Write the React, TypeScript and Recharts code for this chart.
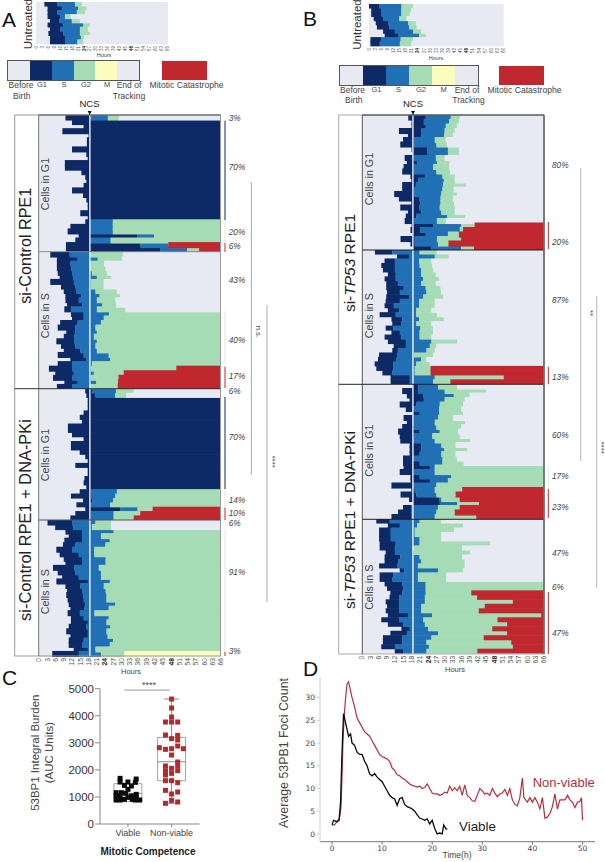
import React from "react";
import {
  BarChart, Bar, XAxis, YAxis, ReferenceLine, ReferenceArea,
  ScatterChart, Scatter, LineChart, Line,
} from "recharts";

const FONT = "'Liberation Sans', Arial, sans-serif";
const C_BG = "#e8eaf3", C_G1 = "#0d2a66", C_S = "#2170b5", C_G2 = "#a5dcb5", C_M = "#fdfcbf", C_CAT = "#c1272f";

const hourTicks = [0, 3, 6, 9, 12, 15, 18, 21, 24, 27, 30, 33, 36, 39, 42, 45, 48, 51, 54, 57, 60, 63, 66];

// Untreated A
const uaBirth = [4.2, 5.8, 5.8, 5.8, 7, 5.8, 7, 6.2, 7, 7];
const uaG1 = [10.7, 12.9, 10.7, 12, 11.7, 13.7, 12, 13.7, 14.5, 14.5];
const uaS = [19.5, 21.2, 20.4, 14.5, 17.9, 23.7, 22, 22, 22.5, 20.7];
const uaG2 = [22.9, 25.4, 24.6, 17.4, 22, 27, 26, 27, 24, 23.7];
const uaFate = "eeeeeeeeee";
// Untreated B
const ubBirth = [0, 1.1, 1.1, 2.3, 3.3, 3.9, 6.9, 7.7, 0.7, 0.7];
const ubG1 = [4.9, 6.1, 6.1, 6.9, 9.3, 9.9, 12.6, 14.2, 6.1, 5.2];
const ubS = [15.9, 15.9, 15.9, 14.8, 19.2, 19.7, 21.6, 24.6, 15.5, 15.1];
const ubG2 = [21.6, 20.8, 20, 18.4, 23, 23.4, 25.7, 27.9, 21.6, 20.8];
const ubFate = "eeeeeeeeee";

// A: si-Control, cells in G1
const a1Birth = [9.6, 12, 16.2, 8.5, 18, 17.4, 17.4, 12, 17.2, 17.7, 9.4, 9.4, 15.4, 16.8, 17.2, 16.2, 12, 16, 17.2, 17.7, 17.7, 15, 17.7, 16.8, 11.4, 10.4, 14.4, 13.2, 9.8, 9.8];
const a1G1 = [18.6, 66, 66, 66, 66, 66, 66, 66, 66, 66, 66, 66, 66, 66, 66, 66, 66, 66, 66, 66, 66, 66, 66, 18.6, 18.6, 18.6, 35.6, 18.6, 36.8, 44];
const a1S = [25, 66, 66, 66, 66, 66, 66, 66, 66, 66, 66, 66, 66, 66, 66, 66, 66, 66, 66, 66, 66, 66, 66, 26.8, 26.8, 26.8, 41.8, 26, 47, 53.8];
const a1G2 = [29, 66, 66, 66, 66, 66, 66, 66, 66, 66, 66, 66, 66, 66, 66, 66, 66, 66, 66, 66, 66, 66, 66, 66, 66, 66, 66, 66, 47, 58.2];
const a1Fate = "eeeeeeeeeeeeeeeeeeeeeeeeeeeecc";
// A: si-Control, cells in S
const a2Birth = [4.1, 6.5, 6.5, 6.5, 6.8, 7.5, 4.1, 8, 9, 9.6, 9.6, 10.2, 9.2, 11.6, 12, 7.7, 6.8, 9.9, 9, 6.3, 8, 9, 6.8, 11.4, 6.8, 3.6, 5.9, 5.1, 9.2, 6.5];
const a2G1 = [11.1, 14, 11.4, 11.6, 12, 12.3, 12.6, 13.2, 13.6, 15.3, 14.4, 15.7, 11.6, 16.2, 16.2, 14, 13.2, 13.2, 12.8, 12.8, 13.2, 15, 16.2, 17.2, 12, 12, 12.6, 12, 14, 12];
const a2S = [18.6, 21.3, 18.6, 18.6, 19.2, 21, 18.9, 18.9, 20.5, 22, 21, 23, 21, 25.4, 23.5, 22.5, 20.5, 21, 19.9, 21, 20.5, 21, 25.3, 25.9, 19.2, 18.9, 19.9, 18.9, 20.8, 18.6];
const a2G2 = [30.5, 30.1, 23.7, 24.2, 24.7, 26.3, 23.5, 23.5, 28.3, 29.5, 27.7, 28.1, 31.4, 66, 66, 66, 66, 66, 66, 66, 66, 66, 66, 66, 66, 49.9, 30.8, 28.9, 28.7, 28.6];
const a2Fate = "eeeeeeeeeeeeeeeeeeeeeeeeeccccc";
// A: + DNA-PKi, cells in G1
const a3Birth = [16.8, 17.2, 17.7, 17.7, 17.7, 16.2, 14.8, 15.6, 10.5, 10.5, 12, 16.2, 11.6, 11.6, 14.8, 16.8, 17.7, 13.2, 17.7, 17.7, 16.5, 16.2, 17.2, 14.8, 11.6, 16, 13.6, 16.8, 13.2, 11.4];
const a3G1 = [19.2, 20.5, 66, 66, 66, 66, 66, 66, 66, 66, 66, 66, 66, 66, 66, 66, 66, 66, 66, 66, 66, 66, 66, 18.9, 18.9, 19.2, 18.6, 29.5, 18.9, 18.9];
const a3S = [28, 27.7, 66, 66, 66, 66, 66, 66, 66, 66, 66, 66, 66, 66, 66, 66, 66, 66, 66, 66, 66, 66, 66, 28.3, 27.7, 26.9, 25.9, 35.8, 27.1, 27.1];
const a3G2 = [34.4, 31.7, 66, 66, 66, 66, 66, 66, 66, 66, 66, 66, 66, 66, 66, 66, 66, 66, 66, 66, 66, 66, 66, 66, 66, 66, 66, 41.3, 36.8, 34.4];
const a3Fate = "eeeeeeeeeeeeeeeeeeeeeeeeeeeccc";
// A: + DNA-PKi, cells in S
const a4Birth = [3.1, 5.9, 9.6, 10.8, 9.2, 8.7, 6.3, 7.5, 9, 9.6, 5.1, 6.8, 8.4, 6.3, 9.6, 10.2, 9.9, 10.4, 10.8, 11.4, 10.4, 11.6, 11.6, 10.8, 9.9, 11.4, 10.8, 10.8, 12.6, 4.8];
const a4G1 = [12, 12.3, 15.6, 15.6, 15.6, 13.2, 12, 14.4, 15.6, 15.6, 12.8, 13.2, 14.4, 17.7, 15, 15.6, 16, 16.2, 16.8, 16.5, 14.8, 16.2, 17.7, 17.2, 17.7, 17.7, 16.2, 15.6, 17.7, 14.4];
const a4S = [20.5, 19.2, 27.1, 22.5, 25.7, 24.1, 20.1, 20.1, 24.2, 24.2, 21.7, 22.5, 22.5, 25.7, 23.5, 24.2, 24.5, 24.5, 27.7, 25.3, 20.1, 25.3, 24.5, 25.9, 24.5, 24.9, 26.9, 25.7, 20.5, 22.5];
const a4G2 = [26.2, 26.2, 66, 66, 66, 66, 66, 66, 66, 66, 66, 66, 66, 66, 66, 66, 66, 66, 66, 66, 66, 66, 66, 66, 66, 66, 66, 66, 66, 31];
const a4Fate = "eeeeeeeeeeeeeeeeeeeeeeeeeeeeem";

// B: si-TP53, cells in G1
const b1Birth = [16.8, 18, 18, 13.4, 16.7, 14.9, 13.9, 18, 18.3, 15.5, 16.3, 15.1, 14.6, 17.6, 17.9, 14.6, 14.6, 11.7, 13.4, 17.9, 13.9, 16.7, 15.9, 15.5, 18, 17.6, 18.3, 14, 17.6, 18.5];
const b1G1 = [23.1, 22.4, 23.1, 21.5, 21.5, 19, 19, 23.6, 23.6, 18.8, 20, 18.8, 18.8, 22.8, 20.3, 19.5, 18.8, 18.8, 20.7, 21.2, 20.7, 21.5, 19.7, 18.8, 25.8, 21, 23.1, 19.1, 19.1, 25.2];
const b1S = [32.2, 31.6, 30.4, 30, 29.8, 26.4, 27, 31.2, 31.2, 26.8, 27.2, 25.8, 27, 29.2, 29.7, 29.4, 29.2, 28.8, 28.5, 28.5, 28.2, 28.8, 30.9, 27.2, 36, 35.5, 31.2, 27.2, 27.6, 36];
const b1G2 = [35.5, 35.2, 34.5, 33.7, 33, 30.4, 30.9, 35.2, 35.2, 30, 31.8, 31.6, 32, 33.7, 33.7, 37.9, 33.3, 34.6, 33, 33.4, 33.7, 33.7, 37.5, 30.4, 40.9, 36.7, 35.2, 36, 31.4, 40.7];
const b1Fate = "eeeeeeeeeeeeeeeeeeeeeeeecccccc";
// B: si-TP53, cells in S
const b2Birth = [4.7, 12.7, 8.2, 7, 7.6, 9.4, 8.2, 8.8, 8.8, 9.1, 8.8, 8.6, 8.2, 9.4, 6.4, 10.7, 11, 8.6, 10.7, 8.2, 9.4, 11.5, 11, 6.2, 5.8, 4.6, 5.2, 7.4, 10.4, 10.4];
const b2G1 = [11, 17, 11.9, 11.9, 11.9, 12.2, 12.2, 13, 15.1, 13.7, 17, 13.7, 11.5, 13.4, 12.2, 14.6, 14.3, 11.3, 13.7, 14.3, 15.9, 15.9, 13, 12.7, 12.5, 11.3, 11.3, 11, 17.3, 17.3];
const b2S = [20.9, 26.4, 20.7, 20.9, 21.5, 21.5, 22.2, 21.5, 23.1, 23.4, 22.2, 20.7, 20.7, 19.7, 19.7, 20.7, 19.7, 21.2, 20.9, 20.9, 25.2, 24.6, 23.4, 18.8, 21.5, 19.7, 19.1, 19.1, 26.4, 25.8];
const b2G2 = [27.2, 31.5, 25.2, 25.5, 25.8, 26.8, 28, 26.8, 28.5, 28.8, 29.4, 26.4, 26.4, 25.2, 27.2, 29.7, 25.2, 25.8, 25.8, 25.2, 34.6, 27, 26.4, 25.8, 23.4, 24.6, 24.9, 24.9, 51.5, 32.1];
const b2Fate = "eeeeeeeeeeeeeeeeeeeeeeeeeecccc";
// B: + DNA-PKi, cells in G1
const b3Birth = [18.3, 14.6, 16.3, 17.3, 13.7, 15.9, 18.5, 15.1, 16.3, 14.6, 13.1, 13.7, 13.9, 17.3, 17.3, 17.3, 14.9, 14.9, 15.1, 13.7, 17.6, 17.6, 10.7, 17.9, 14, 17.1, 18.5, 14.9, 13.1, 10.7];
const b3G1 = [20.3, 20.3, 22.2, 22.4, 19.7, 18.5, 20.9, 18.5, 18.5, 18.8, 20.9, 18.8, 18.5, 21.5, 21.5, 20.9, 18.5, 20.9, 24.6, 18.8, 20.9, 24.6, 18.5, 19.1, 19.7, 28, 28.2, 17.9, 17.9, 17.9];
const b3S = [27.6, 30, 33.3, 30, 28.2, 28, 28, 27.6, 26.4, 27, 28.2, 25.5, 26.4, 28.8, 29.8, 28.8, 29.2, 29.2, 26.4, 26.4, 32.4, 31.2, 27, 26.4, 27, 28.8, 34.6, 27.6, 27, 26.4];
const b3G2 = [34.6, 45.2, 39.1, 37.3, 36.7, 36.1, 36.7, 33, 37.5, 36.1, 34.9, 35.5, 39.3, 34, 38.3, 34, 34.5, 36.9, 66, 66, 66, 66, 66, 36.4, 34, 35.5, 42.5, 35.5, 33.7, 41.5];
const b3Fate = "eeeeeeeeeeeeeeeeeeeeeeeccccccc";
// B: + DNA-PKi, cells in S
const b4Birth = [5.2, 9.4, 6.2, 6.2, 6.2, 6.4, 6.4, 8.6, 8.2, 8.2, 6.2, 13.7, 6.4, 6.4, 8.2, 9.1, 10.3, 10, 8.6, 9.1, 8.6, 9.4, 7, 9.4, 14.3, 10.3, 7.6, 7.6, 7, 11.9];
const b4G1 = [10, 13.7, 10.4, 10.4, 10.4, 12.2, 11.9, 11.9, 13.9, 13.1, 12.7, 15.3, 11.3, 11, 14.6, 14.9, 14.6, 13.4, 13.4, 13.4, 13.4, 16.7, 13.4, 14.9, 17.3, 16.3, 14.6, 14.6, 11.9, 14.9];
const b4S = [20.9, 20, 19.1, 19.1, 20.9, 20.9, 18.5, 18.8, 20.9, 21.5, 20.3, 27.6, 20.3, 20.3, 23.1, 23.1, 23.1, 22.8, 22.8, 21.5, 21.5, 25.5, 22.2, 22.8, 24, 27.6, 25.2, 23.4, 24.3, 23.4];
const b4G2 = [28.8, 36.7, 33.4, 28.8, 28.8, 46.6, 36.4, 39.3, 36.4, 37.3, 37.3, 36.7, 30.6, 30.6, 66, 66, 39.7, 41.8, 54.8, 44.6, 42.4, 65.1, 49.2, 52.7, 47.3, 52.7, 44.2, 54.2, 54.8, 41.9];
const b4Fate = "eeeeeeeeeeeeeeeecccccccccccccc";

// C: box plot points
const viableX = [0.82, 1.19, 0.82, 1, 1.17, 0.92, 1.08, 1, 0.73, 0.85, 0.95, 1.19, 0.73, 0.82, 1.08, 1.19, 0.73, 0.92, 1, 1.1, 1.27, 0.82, 1.17];
const viableY = [1687, 1662, 1552, 1552, 1540, 1428, 1404, 1281, 1158, 1158, 1133, 1096, 1034, 1010, 1034, 1010, 887, 911, 985, 911, 887, 887, 887];
const nonViableX = [2, 2, 2, 1.86, 2, 2.14, 1.86, 2.14, 2, 2.14, 1.72, 1.86, 2, 2.14, 2.27, 2, 2.14, 1.86, 2, 2.14, 2.14, 1.86, 1.86, 2, 1.86, 2, 2.14, 1.86, 2.14, 2, 2, 1.86, 2.14];
const nonViableY = [4618, 4286, 3953, 3768, 3768, 3768, 3288, 3276, 3153, 3103, 2820, 2759, 2783, 2882, 2783, 2549, 2291, 2143, 2057, 2143, 1970, 1970, 1810, 1872, 1601, 1601, 1527, 1244, 1182, 1108, 874, 764, 813];

// D: foci curves
const nvTime = [0, 0.5, 1, 1.5, 1.8, 2, 2.2, 2.5, 2.8, 3, 3.3, 3.6, 4, 4.5, 5, 5.5, 6, 6.5, 7, 7.5, 8, 8.5, 9, 9.5, 10, 10.5, 11, 11.5, 12, 12.5, 13, 13.5, 14, 14.5, 15, 15.5, 16, 16.5, 17, 17.5, 18, 18.5, 19, 19.5, 20, 20.5, 21, 21.5, 22, 22.5, 23, 23.5, 24, 24.5, 25, 25.5, 26, 26.5, 27, 27.5, 28, 28.5, 29, 29.5, 30, 30.5, 31, 31.5, 32, 32.5, 33, 33.5, 34, 34.5, 35, 35.5, 36, 36.5, 37, 37.5, 38, 38.3, 39, 39.5, 40, 40.5, 41, 41.5, 42, 42.5, 43, 43.5, 44, 44.5, 45, 45.5, 46, 46.5, 47, 47.5, 48, 48.5, 49, 49.5, 49.8, 50];
const nvFoci = [2, 2, 2.7, 3.5, 6, 13, 21, 27, 31, 33, 33.5, 32, 30, 28, 25.5, 24.5, 23.5, 22.5, 22, 21.5, 20.5, 19.5, 18.5, 17.5, 17, 16.8, 16.5, 16, 14.5, 14, 13, 12.8, 12.3, 12, 11.5, 11, 10.7, 10.5, 10.3, 10.5, 10, 10.2, 11, 10, 9, 8.8, 8.8, 8.5, 8.7, 9.2, 9, 10.5, 9.5, 10.2, 9.5, 10.5, 8.5, 10.8, 8.5, 8, 7.3, 7.2, 8.5, 10, 9.5, 8.8, 9, 8.5, 10, 9, 8.2, 8.8, 9, 9.8, 8.5, 10, 7.5, 6.5, 6.2, 8, 12.3, 8, 7, 8, 7, 8, 7, 5.5, 8, 3.5, 3.7, 4.5, 6, 8.8, 5.5, 7.5, 7.5, 7.5, 8.5, 7.5, 7, 5.8, 7, 7.2, 8, 3];
const vTime = [0, 0.3, 1, 1.4, 1.7, 2, 2.3, 2.6, 3, 3.3, 3.7, 4, 4.5, 5, 5.5, 6, 6.5, 7, 7.5, 8, 8.5, 9, 9.5, 10, 10.5, 11, 11.5, 12, 12.5, 13, 13.5, 14, 14.5, 15, 15.5, 16, 16.5, 17, 17.5, 18, 18.5, 19, 19.5, 20, 20.5, 21, 21.5, 22, 22.3, 22.7, 23];
const vFoci = [2, 3, 2.7, 3, 7, 18, 26.5, 25, 23, 21.5, 22, 20, 19.5, 18, 17.5, 17.5, 16, 15, 13.2, 12.8, 13.3, 12.5, 12, 11.5, 10.5, 9.5, 8.5, 8, 7.7, 6.3, 7.8, 8, 6.5, 6, 5.8, 5.5, 5, 4.2, 3.5, 3.3, 3, 3.3, 2.2, 3, 1.2, 0, 0.2, 0, 2, 1.2, 1];

const buildRows = (birth: number[], g1: number[], s: number[], g2: number[], fate: string) =>
  birth.map((b, i) => {
    const rest = 66 - g2[i];
    const f = fate[i];
    return {
      id: i,
      before: b,
      g1: Math.max(0, g1[i] - b),
      s: Math.max(0, s[i] - g1[i]),
      g2: Math.max(0, g2[i] - s[i]),
      m: f === "m" ? rest : 0,
      end: f === "e" ? rest : 0,
      cat: f === "c" ? rest : 0,
    };
  });

const HourTick = ({ x, y, payload, size }: any) => {
  const v = payload.value;
  return (
    <text
      transform={`translate(${x + size * 0.36},${y}) rotate(-90)`}
      textAnchor="end"
      fontFamily={FONT}
      fontSize={size}
      fontWeight={v === 24 || v === 48 ? 700 : 400}
      fill={v === 24 || v === 48 ? "#222" : "#555"}
    >
      {v}
    </text>
  );
};

const segs: [string, string][] = [
  ["before", C_BG], ["g1", C_G1], ["s", C_S], ["g2", C_G2], ["m", C_M], ["end", C_BG], ["cat", C_CAT],
];

// Row cells overlap their neighbours by about a pixel so no hairline shows between rows.
const Cell = ({ x, y, width, height, fill }: any) =>
  width > 0 ? <rect x={x} y={y - 0.5} width={width + 0.3} height={height + 1.05} fill={fill} /> : <g />;

const PAD = 6;
function Track({ left, top, width, height, rows, tickSize, axisH, ncs }: any) {
  const total = height + (axisH || 0);
  return (
    <div style={{ position: "absolute", left: left - PAD, top, width: width + PAD * 2, height: total }}>
      <BarChart
        width={width + PAD * 2}
        height={total}
        data={rows}
        layout="vertical"
        barCategoryGap={0}
        barGap={0}
        margin={{ top: 0, right: PAD, bottom: 0, left: PAD }}
      >
        <XAxis
          type="number"
          domain={[0, 66]}
          ticks={hourTicks}
          interval={0}
          hide={!axisH}
          height={axisH || 0}
          axisLine={false}
          tickLine={false}
          tickSize={0}
          tickMargin={2}
          tick={<HourTick size={tickSize} />}
        />
        <YAxis type="category" dataKey="id" hide />
        {segs.map(([k, c]) => (
          <Bar key={k} dataKey={k} stackId="a" fill={c} isAnimationActive={false} shape={<Cell />} />
        ))}
        {ncs ? <ReferenceLine x={ncs} stroke="#ffffff" strokeWidth={1.3} /> : null}
      </BarChart>
    </div>
  );
}

const Sq = ({ cx, cy, fill }: any) => <rect x={cx - 2.5} y={cy - 2.5} width={5} height={5} fill={fill} />;

function BoxPanel() {
  const viable = viableX.map((x, i) => ({ x, y: viableY[i] }));
  const nonViable = nonViableX.map((x, i) => ({ x, y: nonViableY[i] }));
  const g = "#8a8a8a";
  return (
    <div style={{ position: "absolute", left: 50, top: 680, width: 160, height: 165 }}>
      <ScatterChart width={160} height={165} margin={{ top: 8.7, right: 10.5, bottom: 0, left: 0 }}>
        <XAxis
          type="number"
          dataKey="x"
          domain={[0.36, 2.64]}
          ticks={[1, 2]}
          tickFormatter={(v: number) => (v === 1 ? "Viable" : "Non-viable")}
          height={21}
          stroke="#888"
          tick={{ fontSize: 9, fill: "#444", fontFamily: FONT }}
          tickSize={3}
          tickMargin={3}
          interval={0}
        />
        <YAxis
          type="number"
          dataKey="y"
          domain={[0, 5000]}
          ticks={[0, 1000, 2000, 3000, 4000, 5000]}
          width={50}
          stroke="#888"
          tick={{ fontSize: 11.5, fill: "#333", fontFamily: FONT }}
          tickSize={5}
          tickMargin={1}
        />
        <ReferenceArea x1={0.68} x2={1.32} y1={825} y2={1490} fill="none" stroke={g} strokeWidth={0.8} />
        <ReferenceArea x1={1.68} x2={2.32} y1={1600} y2={3200} fill="none" stroke={g} strokeWidth={0.8} />
        <ReferenceLine segment={[{ x: 0.68, y: 1133 }, { x: 1.32, y: 1133 }]} stroke={g} />
        <ReferenceLine segment={[{ x: 1.68, y: 2300 }, { x: 2.32, y: 2300 }]} stroke={g} />
        <ReferenceLine segment={[{ x: 2, y: 3200 }, { x: 2, y: 4618 }]} stroke={g} />
        <ReferenceLine segment={[{ x: 2, y: 764 }, { x: 2, y: 1600 }]} stroke={g} />
        <ReferenceLine segment={[{ x: 1.83, y: 4618 }, { x: 2.17, y: 4618 }]} stroke={g} />
        <ReferenceLine segment={[{ x: 1.83, y: 764 }, { x: 2.17, y: 764 }]} stroke={g} />
        <ReferenceLine segment={[{ x: 0.92, y: 4950 }, { x: 1.96, y: 4950 }]} stroke="#999" />
        <Scatter data={viable} fill="#0a0a0a" shape={<Sq />} isAnimationActive={false} />
        <Scatter data={nonViable} fill="#b32a2c" shape={<Sq />} isAnimationActive={false} />
      </ScatterChart>
    </div>
  );
}

function CurvePanel() {
  const nv = nvTime.map((t, i) => ({ t, v: nvFoci[i] }));
  const vi = vTime.map((t, i) => ({ t, v: vFoci[i] }));
  return (
    <div style={{ position: "absolute", left: 290, top: 670, width: 310, height: 190 }}>
      <LineChart width={310} height={190} margin={{ top: 6.7, right: 5, bottom: 0, left: 0 }}>
        <XAxis
          type="number"
          dataKey="t"
          domain={[-2.4, 52.5]}
          ticks={[0, 10, 20, 30, 40, 50]}
          height={18.3}
          stroke="#777"
          tick={{ fontSize: 7.5, fill: "#444", fontFamily: "'DejaVu Sans'" }}
          tickSize={3}
          tickMargin={1}
          allowDuplicatedCategory={false}
        />
        <YAxis
          type="number"
          dataKey="v"
          domain={[-1.7, 34.6]}
          ticks={[0, 5, 10, 15, 20, 25, 30]}
          width={30}
          stroke="#cfcfcf"
          tick={{ fontSize: 7.5, fill: "#444", fontFamily: "'DejaVu Sans'" }}
          tickSize={3}
          tickMargin={2}
        />
        <Line data={nv} dataKey="v" stroke="#b5303a" strokeWidth={1.2} dot={false} isAnimationActive={false} />
        <Line data={vi} dataKey="v" stroke="#0a0a0a" strokeWidth={1.3} dot={false} isAnimationActive={false} />
      </LineChart>
    </div>
  );
}

const T = ({ x, y, s = 9, c = "#444", a = "start", rot, w, i, children }: any) => (
  <text
    x={rot ? 0 : x}
    y={rot ? 0 : y}
    transform={rot ? `translate(${x},${y}) rotate(${rot})` : undefined}
    fontFamily={FONT}
    fontSize={s}
    fill={c}
    textAnchor={a}
    fontWeight={w}
    fontStyle={i ? "italic" : undefined}
    dominantBaseline="middle"
  >
    {children}
  </text>
);

const Seg = ({ x, y1, y2, c, w = 1 }: any) => <line x1={x} x2={x} y1={y1} y2={y2} stroke={c} strokeWidth={w} />;

function LegendRow({ left, top, segW, redL, redW }: any) {
  const cols = [C_BG, C_G1, C_S, C_G2, C_M, C_BG];
  return (
    <>
      <div style={{ position: "absolute", left, top, width: segW * 6, height: 19, display: "flex", outline: "1px solid #555" }}>
        {cols.map((c, i) => <div key={i} style={{ width: segW, height: 19, background: c }} />)}
      </div>
      <div style={{ position: "absolute", left: redL, top, width: redW, height: 19, background: C_CAT }} />
    </>
  );
}

const aPct: [number, string][] = [[119, "3%"], [167.7, "70%"], [232.7, "20%"], [247, "6%"], [281, "43%"], [340.7, "40%"], [376.7, "17%"], [391.7, "6%"], [438, "70%"], [500.7, "14%"], [514, "10%"], [523.7, "6%"], [572.7, "91%"], [651.7, "3%"]];
const bPct: [number, string][] = [[165.7, "80%"], [242.7, "20%"], [301, "87%"], [377.7, "13%"], [436, "60%"], [476.7, "17%"], [507.7, "23%"], [554, "47%"], [588, "6%"], [633.7, "47%"]];

export default function App() {
  return (
    <div style={{ position: "absolute", left: 0, top: 0, width: 605, height: 862, background: "#fff", overflow: "hidden" }}>
      <Track left={36} top={2.3} width={131.7} height={42} rows={buildRows(uaBirth, uaG1, uaS, uaG2, uaFate)} axisH={9} tickSize={4.5} />
      <Track left={369.3} top={4.3} width={134.4} height={42} rows={buildRows(ubBirth, ubG1, ubS, ubG2, ubFate)} axisH={9} tickSize={4.5} />

      <LegendRow left={8.3} top={61} segW={21.8} redL={161.7} redW={45} />
      <LegendRow left={340} top={66} segW={23} redL={499.3} redW={45} />

      <Track left={38.7} top={115} width={181.6} height={136.7} rows={buildRows(a1Birth, a1G1, a1S, a1G2, a1Fate)} ncs={18.5} />
      <Track left={38.7} top={251.7} width={181.6} height={137} rows={buildRows(a2Birth, a2G1, a2S, a2G2, a2Fate)} ncs={18.5} />
      <Track left={38.7} top={388.7} width={181.6} height={131.3} rows={buildRows(a3Birth, a3G1, a3S, a3G2, a3Fate)} ncs={18.5} />
      <Track left={38.7} top={520} width={181.6} height={136} rows={buildRows(a4Birth, a4G1, a4S, a4G2, a4Fate)} ncs={18.5} axisH={14} tickSize={6.8} />

      <Track left={362.3} top={115} width={181.7} height={135} rows={buildRows(b1Birth, b1G1, b1S, b1G2, b1Fate)} ncs={18.5} />
      <Track left={362.3} top={250} width={181.7} height={134.3} rows={buildRows(b2Birth, b2G1, b2S, b2G2, b2Fate)} ncs={18.5} />
      <Track left={362.3} top={384.3} width={181.7} height={135} rows={buildRows(b3Birth, b3G1, b3S, b3G2, b3Fate)} ncs={18.5} />
      <Track left={362.3} top={519.3} width={181.7} height={134.7} rows={buildRows(b4Birth, b4G1, b4S, b4G2, b4Fate)} ncs={18.5} axisH={14} tickSize={6.8} />

      <BoxPanel />
      <CurvePanel />

      <svg width={605} height={862} style={{ position: "absolute", left: 0, top: 0, pointerEvents: "none" }}>
        {/* frames A */}
        <rect x={14.7} y={115} width={205.8} height={541} fill="none" stroke="#999" />
        <Seg x={38.7} y1={115} y2={656} c="#777" />
        <line x1={38.7} x2={220.5} y1={251.7} y2={251.7} stroke="#888" />
        <line x1={14.7} x2={220.5} y1={388.7} y2={388.7} stroke="#333" />
        <line x1={38.7} x2={220.5} y1={520} y2={520} stroke="#555" />
        <line x1={38.7} x2={220.5} y1={115} y2={115} stroke="#555" />
        {/* frames B */}
        <rect x={338.7} y={115} width={205.3} height={539} fill="none" stroke="#aaa" />
        <Seg x={362.3} y1={115} y2={654} c="#555" />
        <line x1={362.3} x2={544} y1={115} y2={115} stroke="#333" />
        <line x1={362.3} x2={544} y1={250} y2={250} stroke="#222" />
        <line x1={338.7} x2={544} y1={384.3} y2={384.3} stroke="#222" />
        <line x1={362.3} x2={544} y1={519.3} y2={519.3} stroke="#222" />
        <Seg x={544} y1={115} y2={654} c="#666" w={1.6} />

        {/* panel letters */}
        <T x={2} y={21} s={21} c="#111">A</T>
        <T x={303} y={20} s={21} c="#111">B</T>
        <T x={2} y={679} s={21} c="#111">C</T>
        <T x={303} y={670} s={21} c="#111">D</T>

        <T x={29} y={24} s={11.5} rot={-90} a="middle" c="#333">Untreated</T>
        <T x={358} y={24.5} s={11.5} rot={-90} a="middle" c="#333">Untreated</T>
        <T x={104} y={56} s={5.5} a="middle">Hours</T>
        <T x={436} y={59} s={5.5} a="middle">Hours</T>

        {/* legend A */}
        <T x={8.5} y={86} s={8.5}>Before</T>
        <T x={13} y={96.5} s={8.5}>Birth</T>
        <T x={42} y={85.5} s={7.5} a="middle">G1</T>
        <T x={64} y={85.5} s={7.5} a="middle">S</T>
        <T x={86} y={85.5} s={7.5} a="middle">G2</T>
        <T x={107} y={85.5} s={7.5} a="middle">M</T>
        <T x={129} y={86} s={8.5} a="middle">End of</T>
        <T x={129} y={96.5} s={8.5} a="middle">Tracking</T>
        <T x={149.5} y={86} s={8.6}>Mitotic Catastrophe</T>
        <T x={89.5} y={104} s={9.5} a="middle" c="#222">NCS</T>
        <path d="M87.7 111 L91.7 111 L89.7 115 Z" fill="#111" />

        {/* legend B */}
        <T x={340} y={91} s={8.5}>Before</T>
        <T x={345} y={101} s={8.5}>Birth</T>
        <T x={376.5} y={90.5} s={7.5} a="middle">G1</T>
        <T x={398.5} y={90.5} s={7.5} a="middle">S</T>
        <T x={421} y={90.5} s={7.5} a="middle">G2</T>
        <T x={443.5} y={90.5} s={7.5} a="middle">M</T>
        <T x={467} y={91} s={8.5} a="middle">End of</T>
        <T x={468.5} y={101} s={8.5} a="middle">Tracking</T>
        <T x={487.5} y={91} s={8.6}>Mitotic Catastrophe</T>
        <T x={413} y={104} s={9.5} a="middle" c="#222">NCS</T>
        <path d="M411 111 L415 111 L413 115 Z" fill="#111" />

        {/* row labels A */}
        <T x={27} y={245.7} s={16.2} rot={-90} a="middle" c="#222">si-Control RPE1</T>
        <T x={27} y={520} s={16.4} rot={-90} a="middle" c="#222">si-Control RPE1 + DNA-PKi</T>
        <T x={46.5} y={184} s={10.7} rot={-90} a="middle">Cells in G1</T>
        <T x={46.5} y={315.7} s={10.7} rot={-90} a="middle">Cells in S</T>
        <T x={46.5} y={455} s={10.7} rot={-90} a="middle">Cells in G1</T>
        <T x={46.5} y={591.7} s={10.7} rot={-90} a="middle">Cells in S</T>
        {/* row labels B */}
        <T x={351} y={263} s={15.5} rot={-90} a="middle" c="#222">si-<tspan fontStyle="italic">TP53</tspan> RPE1</T>
        <T x={351} y={520} s={15.5} rot={-90} a="middle" c="#222">si-<tspan fontStyle="italic">TP53</tspan> RPE1 + DNA-PKi</T>
        <T x={370.5} y={179} s={10.7} rot={-90} a="middle">Cells in G1</T>
        <T x={370.5} y={315.7} s={10.7} rot={-90} a="middle">Cells in S</T>
        <T x={370.5} y={450.7} s={10.7} rot={-90} a="middle">Cells in G1</T>
        <T x={370.5} y={587.3} s={10.7} rot={-90} a="middle">Cells in S</T>

        <T x={131} y={672.5} s={7.5} a="middle">Hours</T>
        <T x={455} y={670.5} s={7.5} a="middle">Hours</T>

        {/* percents */}
        {aPct.map(([y, t], i) => <T key={i} x={228.7} y={y} s={8.3} i c="#444">{t}</T>)}
        {bPct.map(([y, t], i) => <T key={i} x={552} y={y} s={8.3} i c="#444">{t}</T>)}

        {/* side bars A */}
        <Seg x={225} y1={120.7} y2={220} c={C_G1} />
        <Seg x={225} y1={220} y2={243} c="#d5efdd" />
        <Seg x={225} y1={243} y2={252} c={C_CAT} />
        <Seg x={225} y1={311} y2={365} c="#d5efdd" />
        <Seg x={225} y1={366.7} y2={388} c={C_CAT} />
        <Seg x={225} y1={397} y2={489} c={C_G1} />
        <Seg x={225} y1={489} y2={507} c="#d5efdd" />
        <Seg x={225} y1={507.7} y2={520} c={C_CAT} />
        <Seg x={225} y1={529} y2={651} c="#d5efdd" />
        <Seg x={225} y1={651.7} y2={656} c={C_CAT} />
        {/* side bars B */}
        <Seg x={548.3} y1={222} y2={249} c={C_CAT} />
        <Seg x={548.3} y1={366.7} y2={384.3} c={C_CAT} />
        <Seg x={548.3} y1={466} y2={489} c="#d5efdd" />
        <Seg x={548.3} y1={489} y2={518} c={C_CAT} />
        <Seg x={548.3} y1={592} y2={654} c={C_CAT} />

        {/* significance */}
        <Seg x={251.3} y1={182} y2={475} c="#aaa" />
        <Seg x={267} y1={305} y2={601.7} c="#aaa" />
        <T x={258} y={331.7} s={7.5} rot={90} a="middle">n.s.</T>
        <T x={272.5} y={461.7} s={8} rot={90} a="middle">****</T>
        <Seg x={580.7} y1={168} y2={461} c="#bbb" />
        <Seg x={596.7} y1={295.7} y2={588} c="#bbb" />
        <T x={590} y={313} s={8} rot={90} a="middle">**</T>
        <T x={601} y={447.7} s={8} rot={90} a="middle">****</T>

        {/* C text */}
        <T x={36} y={752.7} s={11.5} rot={-90} a="middle">53BP1 Integral Burden</T>
        <T x={50} y={752.7} s={11.5} rot={-90} a="middle">(AUC Units)</T>
        <T x={148} y={852} s={10} a="middle" w={700} c="#222">Mitotic Competence</T>
        <T x={149} y={685.5} s={9} a="middle">****</T>

        {/* D text */}
        <T x={285} y={753} s={12.4} rot={-90} a="middle">Average 53PB1 Foci Count</T>
        <T x={457} y={855.5} s={8.5} a="middle">Time(h)</T>
        <T x={532.7} y={784} s={13} c="#b5303a">Non-viable</T>
        <T x={459} y={827.7} s={13.4} c="#222">Viable</T>
      </svg>
    </div>
  );
}
